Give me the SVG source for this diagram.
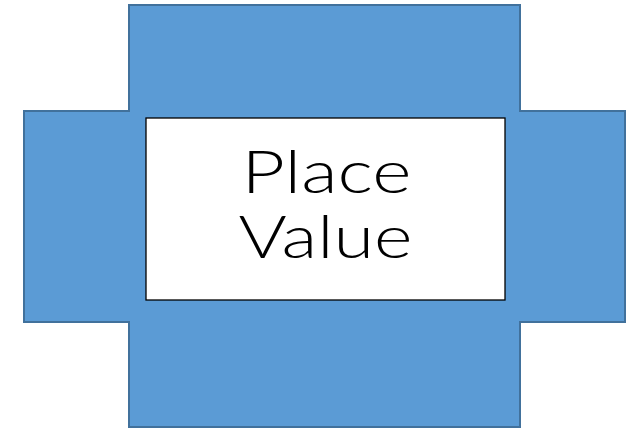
<svg xmlns="http://www.w3.org/2000/svg" width="634" height="429" viewBox="0 0 634 429">
  <style>
    .shape { fill: #5B9BD5; stroke: #41719C; stroke-width: 2; }
    .box { fill: #FFFFFF; stroke: #000000; stroke-width: 1.3; }
    .label { font-family: "Century Gothic", "URW Gothic", Lato, "Liberation Sans", sans-serif; font-weight: 300; font-size: 59px; fill: #000000; text-anchor: middle; }
  </style>
  <g id="cross">
    <polygon class="shape" points="129,5 520,5 520,111 625,111 625,322 520,322 520,427 129,427 129,322 24,322 24,111 129,111"/>
  </g>
  <g id="label-box">
    <rect class="box" x="146" y="118" width="359" height="182"/>
    <text class="label" x="326.5" y="193" textLength="170" lengthAdjust="spacingAndGlyphs">Place</text>
    <text class="label" x="325.5" y="258" textLength="174" lengthAdjust="spacingAndGlyphs">Value</text>
  </g>
  <g id="connectors"/>
</svg>
